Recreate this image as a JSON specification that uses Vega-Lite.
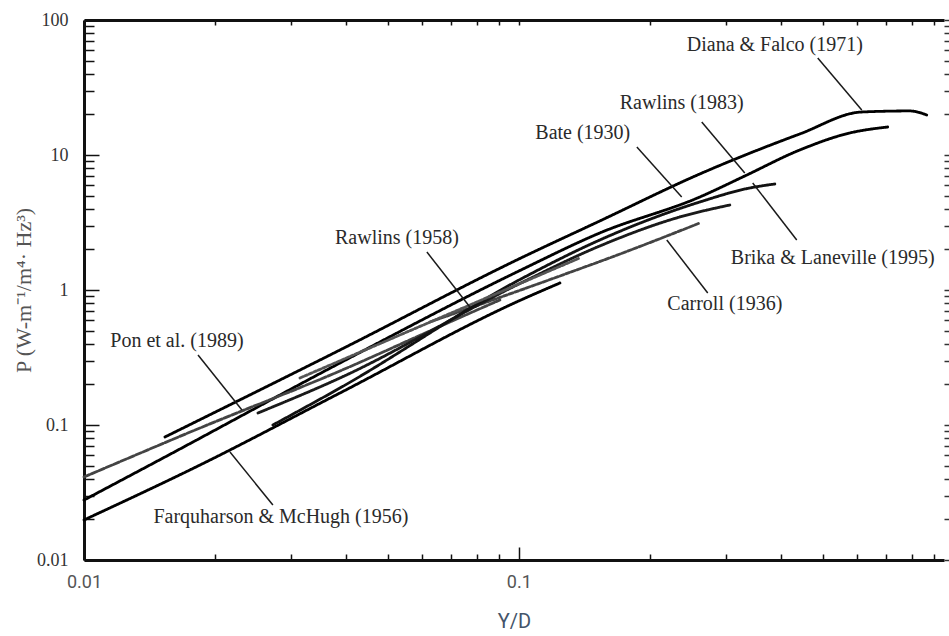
{
  "$schema": "https://vega.github.io/schema/vega-lite/v6.json",
  "width": 860,
  "height": 540,
  "autosize": "none",
  "padding": {"left": 84, "top": 20, "right": 5, "bottom": 76},
  "background": "white",
  "config": {"view": {"stroke": null}},
  "datasets": {
    "curves": [
      {"series": "Diana & Falco", "x": 0.01535, "y": 0.0815},
      {"series": "Diana & Falco", "x": 0.03878, "y": 0.3594},
      {"series": "Diana & Falco", "x": 0.1011, "y": 1.726},
      {"series": "Diana & Falco", "x": 0.1535, "y": 3.245},
      {"series": "Diana & Falco", "x": 0.2607, "y": 7.234},
      {"series": "Diana & Falco", "x": 0.4426, "y": 14.31},
      {"series": "Diana & Falco", "x": 0.6146, "y": 20.82},
      {"series": "Diana & Falco", "x": 0.7924, "y": 21.2},
      {"series": "Diana & Falco", "x": 0.8669, "y": 19.8},
      {"series": "Rawlins 1983", "x": 0.01, "y": 0.0278},
      {"series": "Rawlins 1983", "x": 0.01535, "y": 0.0579},
      {"series": "Rawlins 1983", "x": 0.03878, "y": 0.2879},
      {"series": "Rawlins 1983", "x": 0.1011, "y": 1.406},
      {"series": "Rawlins 1983", "x": 0.1535, "y": 2.644},
      {"series": "Rawlins 1983", "x": 0.2607, "y": 4.886},
      {"series": "Rawlins 1983", "x": 0.3308, "y": 6.99},
      {"series": "Rawlins 1983", "x": 0.4426, "y": 10.89},
      {"series": "Rawlins 1983", "x": 0.5767, "y": 14.55},
      {"series": "Rawlins 1983", "x": 0.705, "y": 16.12},
      {"series": "Pon", "x": 0.01, "y": 0.04119},
      {"series": "Pon", "x": 0.01848, "y": 0.09502},
      {"series": "Pon", "x": 0.03878, "y": 0.2512},
      {"series": "Pon", "x": 0.0694, "y": 0.5794},
      {"series": "Pon", "x": 0.09043, "y": 0.8433},
      {"series": "Farquharson", "x": 0.01, "y": 0.0198},
      {"series": "Farquharson", "x": 0.01848, "y": 0.05053},
      {"series": "Farquharson", "x": 0.03878, "y": 0.1726},
      {"series": "Farquharson", "x": 0.1011, "y": 0.8433},
      {"series": "Farquharson", "x": 0.1243, "y": 1.127},
      {"series": "Carroll", "x": 0.06245, "y": 0.5794},
      {"series": "Carroll", "x": 0.1243, "y": 1.27},
      {"series": "Carroll", "x": 0.1734, "y": 1.88},
      {"series": "Carroll", "x": 0.2607, "y": 3.136},
      {"series": "Bate", "x": 0.02512, "y": 0.1227},
      {"series": "Bate", "x": 0.03878, "y": 0.2229},
      {"series": "Bate", "x": 0.1011, "y": 1.127},
      {"series": "Bate", "x": 0.1535, "y": 2.118},
      {"series": "Bate", "x": 0.2345, "y": 3.473},
      {"series": "Bate", "x": 0.3056, "y": 4.262},
      {"series": "Brika", "x": 0.02719, "y": 0.1},
      {"series": "Brika", "x": 0.03878, "y": 0.1879},
      {"series": "Brika", "x": 0.1011, "y": 1.206},
      {"series": "Brika", "x": 0.1535, "y": 2.346},
      {"series": "Brika", "x": 0.2607, "y": 4.486},
      {"series": "Brika", "x": 0.3396, "y": 5.696},
      {"series": "Brika", "x": 0.3878, "y": 6.098},
      {"series": "Rawlins 1958", "x": 0.03138, "y": 0.2229},
      {"series": "Rawlins 1958", "x": 0.07716, "y": 0.7743},
      {"series": "Rawlins 1958", "x": 0.138, "y": 1.726}
    ],
    "pointers": [
      {"x": 0.4868, "y": 52.3, "x2": 0.6146, "y2": 21.54},
      {"x": 0.2634, "y": 17.55, "x2": 0.3308, "y2": 7.357},
      {"x": 0.345, "y": 6.202, "x2": 0.4356, "y2": 2.346},
      {"x": 0.1868, "y": 11.46, "x2": 0.2369, "y2": 4.886},
      {"x": 0.2189, "y": 2.346, "x2": 0.2719, "y2": 0.9502},
      {"x": 0.06145, "y": 1.912, "x2": 0.07716, "y2": 0.7484},
      {"x": 0.01829, "y": 0.33, "x2": 0.02308, "y2": 0.1292},
      {"x": 0.02166, "y": 0.0631, "x2": 0.02719, "y2": 0.02554}
    ],
    "labels": [
      {"x": 0.3878, "y": 65.3, "text": "Diana & Falco (1971)"},
      {"x": 0.2369, "y": 24.28, "text": "Rawlins (1983)"},
      {"x": 0.1403, "y": 14.55, "text": "Bate (1930)"},
      {"x": 0.527, "y": 1.726, "text": "Brika & Laneville (1995)"},
      {"x": 0.2976, "y": 0.7876, "text": "Carroll (1936)"},
      {"x": 0.05243, "y": 2.428, "text": "Rawlins (1958)"},
      {"x": 0.01636, "y": 0.419, "text": "Pon et al. (1989)"},
      {"x": 0.02837, "y": 0.02083, "text": "Farquharson & McHugh (1956)"}
    ]
  },
  "layer": [
    {
      "data": {"name": "curves"},
      "mark": {"type": "line", "interpolate": "monotone", "strokeCap": "round"},
      "encoding": {
        "x": {
          "field": "x", "type": "quantitative",
          "scale": {"type": "log", "domain": [0.01, 0.95], "nice": false, "zero": false},
          "axis": {
            "orient": "bottom",
            "title": "Y/D",
            "values": [0.01,0.02,0.03,0.04,0.05,0.06,0.07,0.08,0.09,0.1,0.2,0.3,0.4,0.5,0.6,0.7,0.8,0.9],
            "format": "~g",
            "labelExpr": "(datum.value == 0.01 || datum.value == 0.1) ? datum.label : ''",
            "tickSize": {"condition": {"test": "datum.value == 0.01 || datum.value == 0.1", "value": -13}, "value": -6},
            "tickWidth": 1.5,
            "tickColor": "#111",
            "domainColor": "#111",
            "domainWidth": 3,
            "grid": false,
            "labelFont": "Roboto",
            "labelFontSize": 18,
            "labelColor": "#555",
            "labelPadding": 26,
            "labelFlush": false,
            "labelOverlap": false,
            "titleFont": "Roboto",
            "titleFontSize": 20,
            "titleFontWeight": "normal",
            "titleColor": "#44546a",
            "titlePadding": 13
          }
        },
        "y": {
          "field": "y", "type": "quantitative",
          "scale": {"type": "log", "domain": [0.01, 100], "nice": false, "zero": false},
          "axis": {
            "orient": "left",
            "title": "P (W-m⁻¹/m⁴· Hz³)",
            "values": [0.01,0.02,0.03,0.04,0.05,0.06,0.07,0.08,0.09,0.1,0.2,0.3,0.4,0.5,0.6,0.7,0.8,0.9,1,2,3,4,5,6,7,8,9,10,20,30,40,50,60,70,80,90,100],
            "format": "~g",
            "labelExpr": "indexof([0.01, 0.1, 1, 10, 100], datum.value) >= 0 ? datum.label : ''",
            "tickSize": {"condition": {"test": "indexof([0.01, 0.1, 1, 10, 100], datum.value) >= 0", "value": -15}, "value": -10},
            "tickWidth": 1.5,
            "tickColor": "#111",
            "domainColor": "#111",
            "domainWidth": 3,
            "grid": false,
            "labelFont": "Liberation Serif",
            "labelFontSize": 18,
            "labelColor": "#333",
            "labelPadding": 31,
            "labelFlush": false,
            "labelOverlap": false,
            "titleFont": "Liberation Serif",
            "titleFontSize": 22,
            "titleFontWeight": "normal",
            "titleColor": "#555555",
            "titlePadding": 1
          }
        },
        "detail": {"field": "series"},
        "color": {
          "field": "series", "type": "nominal", "legend": null,
          "scale": {
            "domain": ["Diana & Falco", "Rawlins 1983", "Farquharson", "Brika", "Bate", "Pon", "Carroll", "Rawlins 1958"],
            "range": ["#000000", "#000000", "#000000", "#111111", "#1a1a1a", "#444444", "#444444", "#555555"]
          }
        },
        "strokeWidth": {
          "field": "series", "type": "nominal", "legend": null,
          "scale": {
            "domain": ["Diana & Falco", "Rawlins 1983", "Farquharson", "Brika", "Bate", "Pon", "Carroll", "Rawlins 1958"],
            "range": [2.8, 2.8, 2.8, 2.4, 2.2, 1.3, 1.4, 1.3]
          }
        },
        "strokeDash": {
          "field": "series", "type": "nominal", "legend": null,
          "scale": {
            "domain": ["Diana & Falco", "Rawlins 1983", "Farquharson", "Brika", "Bate", "Pon", "Carroll", "Rawlins 1958"],
            "range": [[1, 0], [1, 0], [1, 0], [1, 0], [1, 0], [6, 2], [4, 2], [3, 2]]
          }
        }
      }
    },
    {
      "data": {"name": "pointers"},
      "mark": {"type": "rule", "stroke": "#1a1a1a", "strokeWidth": 1.5},
      "encoding": {
        "x": {
          "field": "x", "type": "quantitative",
          "scale": {"type": "log", "domain": [0.01, 0.95], "nice": false, "zero": false},
          "axis": {
            "orient": "top",
            "title": null,
            "values": [0.01,0.02,0.03,0.04,0.05,0.06,0.07,0.08,0.09,0.1,0.2,0.3,0.4,0.5,0.6,0.7,0.8,0.9],
            "labels": false,
            "tickSize": -5,
            "tickWidth": 1.5,
            "tickColor": "#111",
            "domainColor": "#111",
            "domainWidth": 3,
            "grid": false
          }
        },
        "y": {
          "field": "y", "type": "quantitative",
          "scale": {"type": "log", "domain": [0.01, 100], "nice": false, "zero": false},
          "axis": {
            "orient": "right",
            "title": null,
            "values": [0.01,0.02,0.03,0.04,0.05,0.06,0.07,0.08,0.09,0.1,0.2,0.3,0.4,0.5,0.6,0.7,0.8,0.9,1,2,3,4,5,6,7,8,9,10,20,30,40,50,60,70,80,90,100],
            "labels": false,
            "domain": false,
            "tickSize": 5,
            "tickWidth": 1.5,
            "tickColor": "#333",
            "grid": false
          }
        },
        "x2": {"field": "x2"},
        "y2": {"field": "y2"}
      }
    },
    {
      "data": {"name": "labels"},
      "mark": {"type": "text", "font": "Liberation Serif", "fontSize": 20, "color": "#2a2a2a", "align": "center", "baseline": "middle"},
      "encoding": {
        "x": {"field": "x", "type": "quantitative", "scale": {"type": "log", "domain": [0.01, 0.95], "nice": false, "zero": false}, "axis": null},
        "y": {"field": "y", "type": "quantitative", "scale": {"type": "log", "domain": [0.01, 100], "nice": false, "zero": false}, "axis": null},
        "text": {"field": "text"}
      }
    }
  ],
  "resolve": {"axis": {"x": "independent", "y": "independent"}}
}
